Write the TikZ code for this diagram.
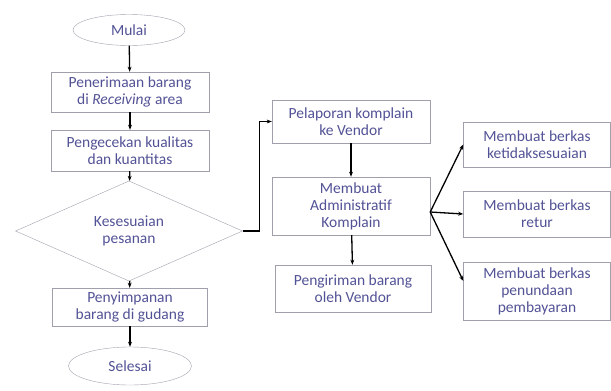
\documentclass[tikz,border=0pt]{standalone}
\usepackage{fontspec}
\setmainfont{Carlito}
\usepackage{xcolor}
\usetikzlibrary{shapes.geometric, arrows.meta, positioning, calc}
\definecolor{txtblue}{RGB}{82,82,150}
\definecolor{boxgray}{RGB}{160,160,172}
\tikzstyle{term} = [ellipse, minimum width=112pt, minimum height=31pt, inner sep=0pt, text centered, draw=boxgray, text=txtblue, font=\fontsize{15.5}{17}\selectfont]
\tikzstyle{proc} = [rectangle, minimum width=158pt, minimum height=40pt, inner sep=0pt, align=center, draw=boxgray, text=txtblue, font=\fontsize{15.5}{17}\selectfont]
\tikzstyle{decide} = [diamond, minimum width=227pt, minimum height=83pt, inner sep=0pt, align=center, draw=boxgray, text=txtblue, font=\fontsize{15.5}{17}\selectfont]
\tikzstyle{arr} = [-{Stealth[length=1.8mm]}, line width=1.3pt]

\begin{document}
\begin{tikzpicture}[x=1pt, y=-1pt]
  \useasboundingbox (0,0) rectangle (611,391);
  % Left column (main flow)
  \node[term] (mulai) at (129,30) {Mulai};
  \node[proc] (terima) at (130,92) {Penerimaan barang\\di \textit{Receiving} area};
  \node[proc, minimum height=41pt] (cek) at (130,150.5) {Pengecekan kualitas\\dan kuantitas};
  \node[decide] (sesuai) at (129,231) {Kesesuaian\\pesanan};
  \node[proc, minimum width=155pt, minimum height=38pt] (simpan) at (130,307) {Penyimpanan\\barang di gudang};
  \node[term, minimum width=123pt, minimum height=38pt] (selesai) at (130,366) {Selesai};
  % Middle column (complaint)
  \node[proc, minimum height=43pt] (lapor) at (351,121.5) {Pelaporan komplain\\ke Vendor};
  \node[proc, minimum height=58pt] (admin) at (351,206) {Membuat\\Administratif\\Komplain};
  \node[proc, minimum width=156pt, minimum height=47pt] (kirim) at (353,288.5) {Pengiriman barang\\oleh Vendor};
  % Right column (documents)
  \node[proc, minimum width=147pt, minimum height=45pt] (tidak) at (537,144.5) {Membuat berkas\\ketidaksesuaian};
  \node[proc, minimum width=147pt, minimum height=46pt] (retur) at (537,214) {Membuat berkas\\retur};
  \node[proc, minimum width=147pt, minimum height=58pt] (tunda) at (537,291) {Membuat berkas\\penundaan\\pembayaran};
  \draw[arr] (mulai) -- (terima);
  \draw[arr] (terima) -- (cek);
  \draw[arr] (cek) -- (sesuai);
  \draw[arr] (sesuai) -- (simpan);
  \draw[arr] (simpan) -- (selesai);
  \draw[arr] (sesuai.east) -- ++(17,0) |- (lapor.west);
  \draw[arr] (lapor) -- (admin);
  \draw[arr] (admin) -- (kirim);
  \draw[arr] ([yshift=-6pt]admin.east) -- (tidak.west);
  \draw[arr] ([yshift=-6pt]admin.east) -- (retur.west);
  \draw[arr] ([yshift=-6pt]admin.east) -- ([yshift=10pt]tunda.west);
\end{tikzpicture}
\end{document}
